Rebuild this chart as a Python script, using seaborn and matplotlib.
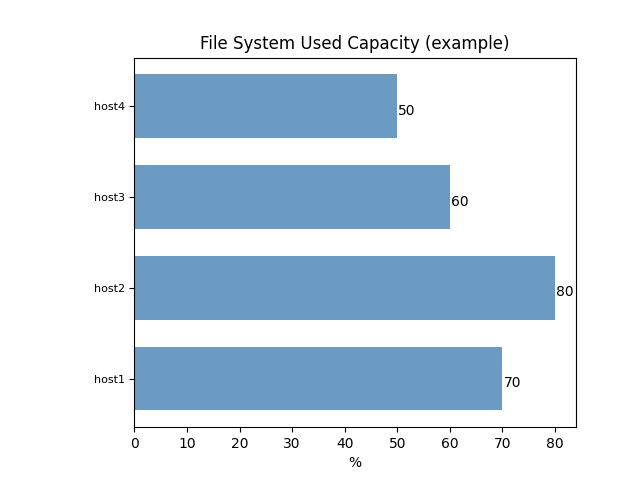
import matplotlib
matplotlib.use("Agg")
import matplotlib.pyplot as plt
import seaborn as sns
import pandas as pd

hosts = ["host1", "host2", "host3", "host4"]
used_pct = [70, 80, 60, 50]

df = pd.DataFrame({"host": hosts, "used": used_pct})

fig, ax = plt.subplots(figsize=(6.4, 4.8), dpi=100)
fig.subplots_adjust(left=0.21, right=0.9, top=0.88, bottom=0.11)

order = hosts[::-1]
sns.barplot(data=df, x="used", y="host", order=order, orient="h",
            color="steelblue", saturation=1, alpha=0.8, width=0.7, ax=ax)

for i, h in enumerate(order):
    v = used_pct[hosts.index(h)]
    ax.text(v + 0.2, i + 0.05, str(v), va="center", ha="left", fontsize=10)

ax.set_ylim(3.535, -0.535)
ax.set_xlim(0, 84)
ax.set_title("File System Used Capacity (example)")
ax.set_xlabel("%")
ax.set_ylabel("")
ax.tick_params(axis="y", labelsize=8)

fig.savefig("out.png", dpi=100)
